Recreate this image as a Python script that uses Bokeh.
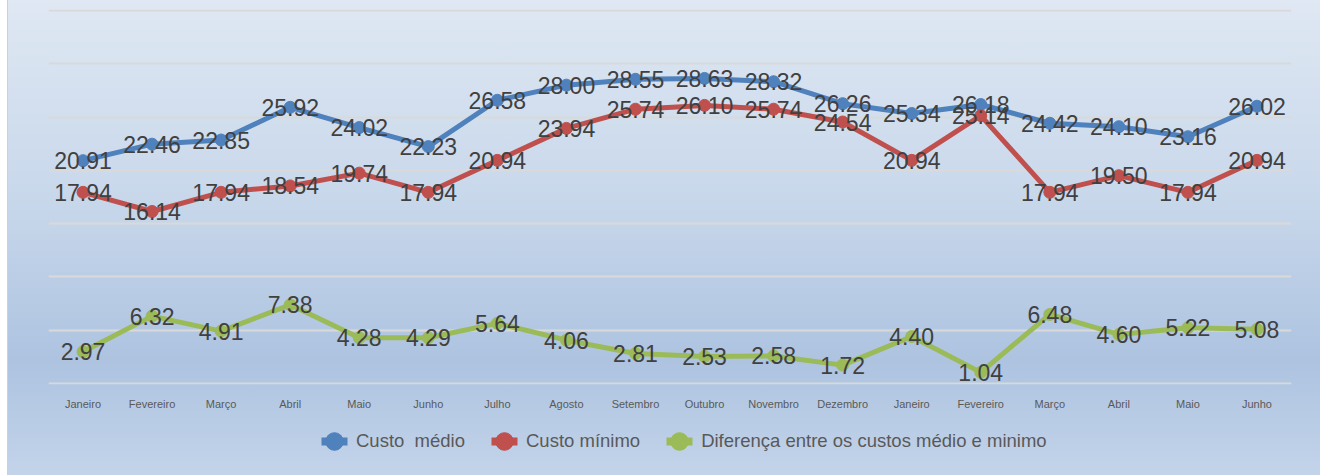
from bokeh.plotting import figure
from bokeh.layouts import column
from bokeh.models import ColumnDataSource, Range1d, FixedTicker, Legend, LegendItem
from bokeh.embed import file_html
from bokeh.resources import INLINE
from bokeh.core.properties import value

months = ["Janeiro", "Fevereiro", "Março", "Abril", "Maio", "Junho", "Julho", "Agosto",
          "Setembro", "Outubro", "Novembro", "Dezembro", "Janeiro", "Fevereiro", "Março",
          "Abril", "Maio", "Junho"]
custo_medio = [20.91, 22.46, 22.85, 25.92, 24.02, 22.23, 26.58, 28.00, 28.55, 28.63, 28.32,
               26.26, 25.34, 26.18, 24.42, 24.10, 23.16, 26.02]
custo_minimo = [17.94, 16.14, 17.94, 18.54, 19.74, 17.94, 20.94, 23.94, 25.74, 26.10, 25.74,
                24.54, 20.94, 25.14, 17.94, 19.50, 17.94, 20.94]
diferenca = [2.97, 6.32, 4.91, 7.38, 4.28, 4.29, 5.64, 4.06, 2.81, 2.53, 2.58, 1.72, 4.40,
             1.04, 6.48, 4.60, 5.22, 5.08]
grid_values = [0, 5, 10, 15, 20, 25, 30, 35]

series = [
    ("Custo  médio", custo_medio, "#4f81bd"),
    ("Custo mínimo", custo_minimo, "#c0504d"),
    ("Diferença entre os custos médio e minimo", diferenca, "#9bbb59"),
]

xs = list(range(len(months)))

p = figure(frame_width=1243, frame_height=375, output_backend="svg", toolbar_location=None,
           x_range=Range1d(-0.5, len(months) - 0.5), y_range=Range1d(-0.1, 35.1),
           min_border_left=48, min_border_right=29, min_border_top=9, min_border_bottom=30)
p.background_fill_color = None
p.border_fill_color = None
p.outline_line_color = None

p.yaxis.visible = False
p.ygrid.ticker = FixedTicker(ticks=grid_values)
p.ygrid.grid_line_color = "#d9d9d9"
p.ygrid.grid_line_width = 2
p.xgrid.grid_line_color = None

p.xaxis.ticker = FixedTicker(ticks=xs)
p.xaxis.major_label_overrides = {i: m for i, m in enumerate(months)}
p.xaxis.axis_line_color = None
p.xaxis.major_tick_line_color = None
p.xaxis.minor_tick_line_color = None
p.xaxis.major_label_text_font = "Liberation Sans"
p.xaxis.major_label_text_font_size = "11px"
p.xaxis.major_label_text_color = "#595959"
p.xaxis.major_label_standoff = 7

for name, vals, color in series:
    src = ColumnDataSource(dict(x=xs, y=vals))
    p.line("x", "y", source=src, line_color=color, line_width=5)
    p.scatter("x", "y", source=src, size=12, fill_color=color, line_color=color)

for name, vals, color in series:
    src = ColumnDataSource(dict(x=xs, y=vals, lab=["%.2f" % v for v in vals]))
    p.text("x", "y", text="lab", source=src, text_align="center", text_baseline="middle",
           text_font=value("Liberation Sans"), text_font_size="23px", text_color="#404040")

# legend strip (second figure, transparent, sharing the gradient background)
lg = figure(width=1320, height=61, output_backend="svg", toolbar_location=None,
            x_range=Range1d(-100, -99), y_range=Range1d(-100, -99),
            x_axis_location=None, y_axis_location=None,
            min_border_left=0, min_border_right=0, min_border_top=0, min_border_bottom=0)
lg.background_fill_color = None
lg.border_fill_color = None
lg.outline_line_color = None
lg.grid.visible = False

items = []
for name, vals, color in series:
    lg_src = ColumnDataSource(dict(x=xs, y=vals))
    l1 = lg.line("x", "y", source=lg_src, line_color=color, line_width=8, line_dash="0 9 26 100")
    l2 = lg.scatter("x", "y", source=lg_src, size=19, fill_color=color, line_color=color)
    items.append(LegendItem(label=name, renderers=[l1, l2]))

legend = Legend(items=items, orientation="horizontal", location=(264, 9),
                label_text_font="Liberation Sans", label_text_font_size="18.5px",
                label_text_color="#595959", spacing=17, glyph_width=44, glyph_height=50,
                background_fill_alpha=0, border_line_color=None, label_standoff=0,
                margin=0, padding=0)
lg.add_layout(legend, "center")

layout = column(p, lg, spacing=0)
layout.styles = {"background": "linear-gradient(to right, #ffffff 0px, #ffffff 7px, #d0d0d0 7px, #d0d0d0 8px, transparent 8px), "
                               "linear-gradient(to bottom, #dfe8f3 0%, #c6d6ea 45%, #adc3e0 76%, #c3d4ea 100%)"}

open("out.html", "w").write(file_html(layout, INLINE))
